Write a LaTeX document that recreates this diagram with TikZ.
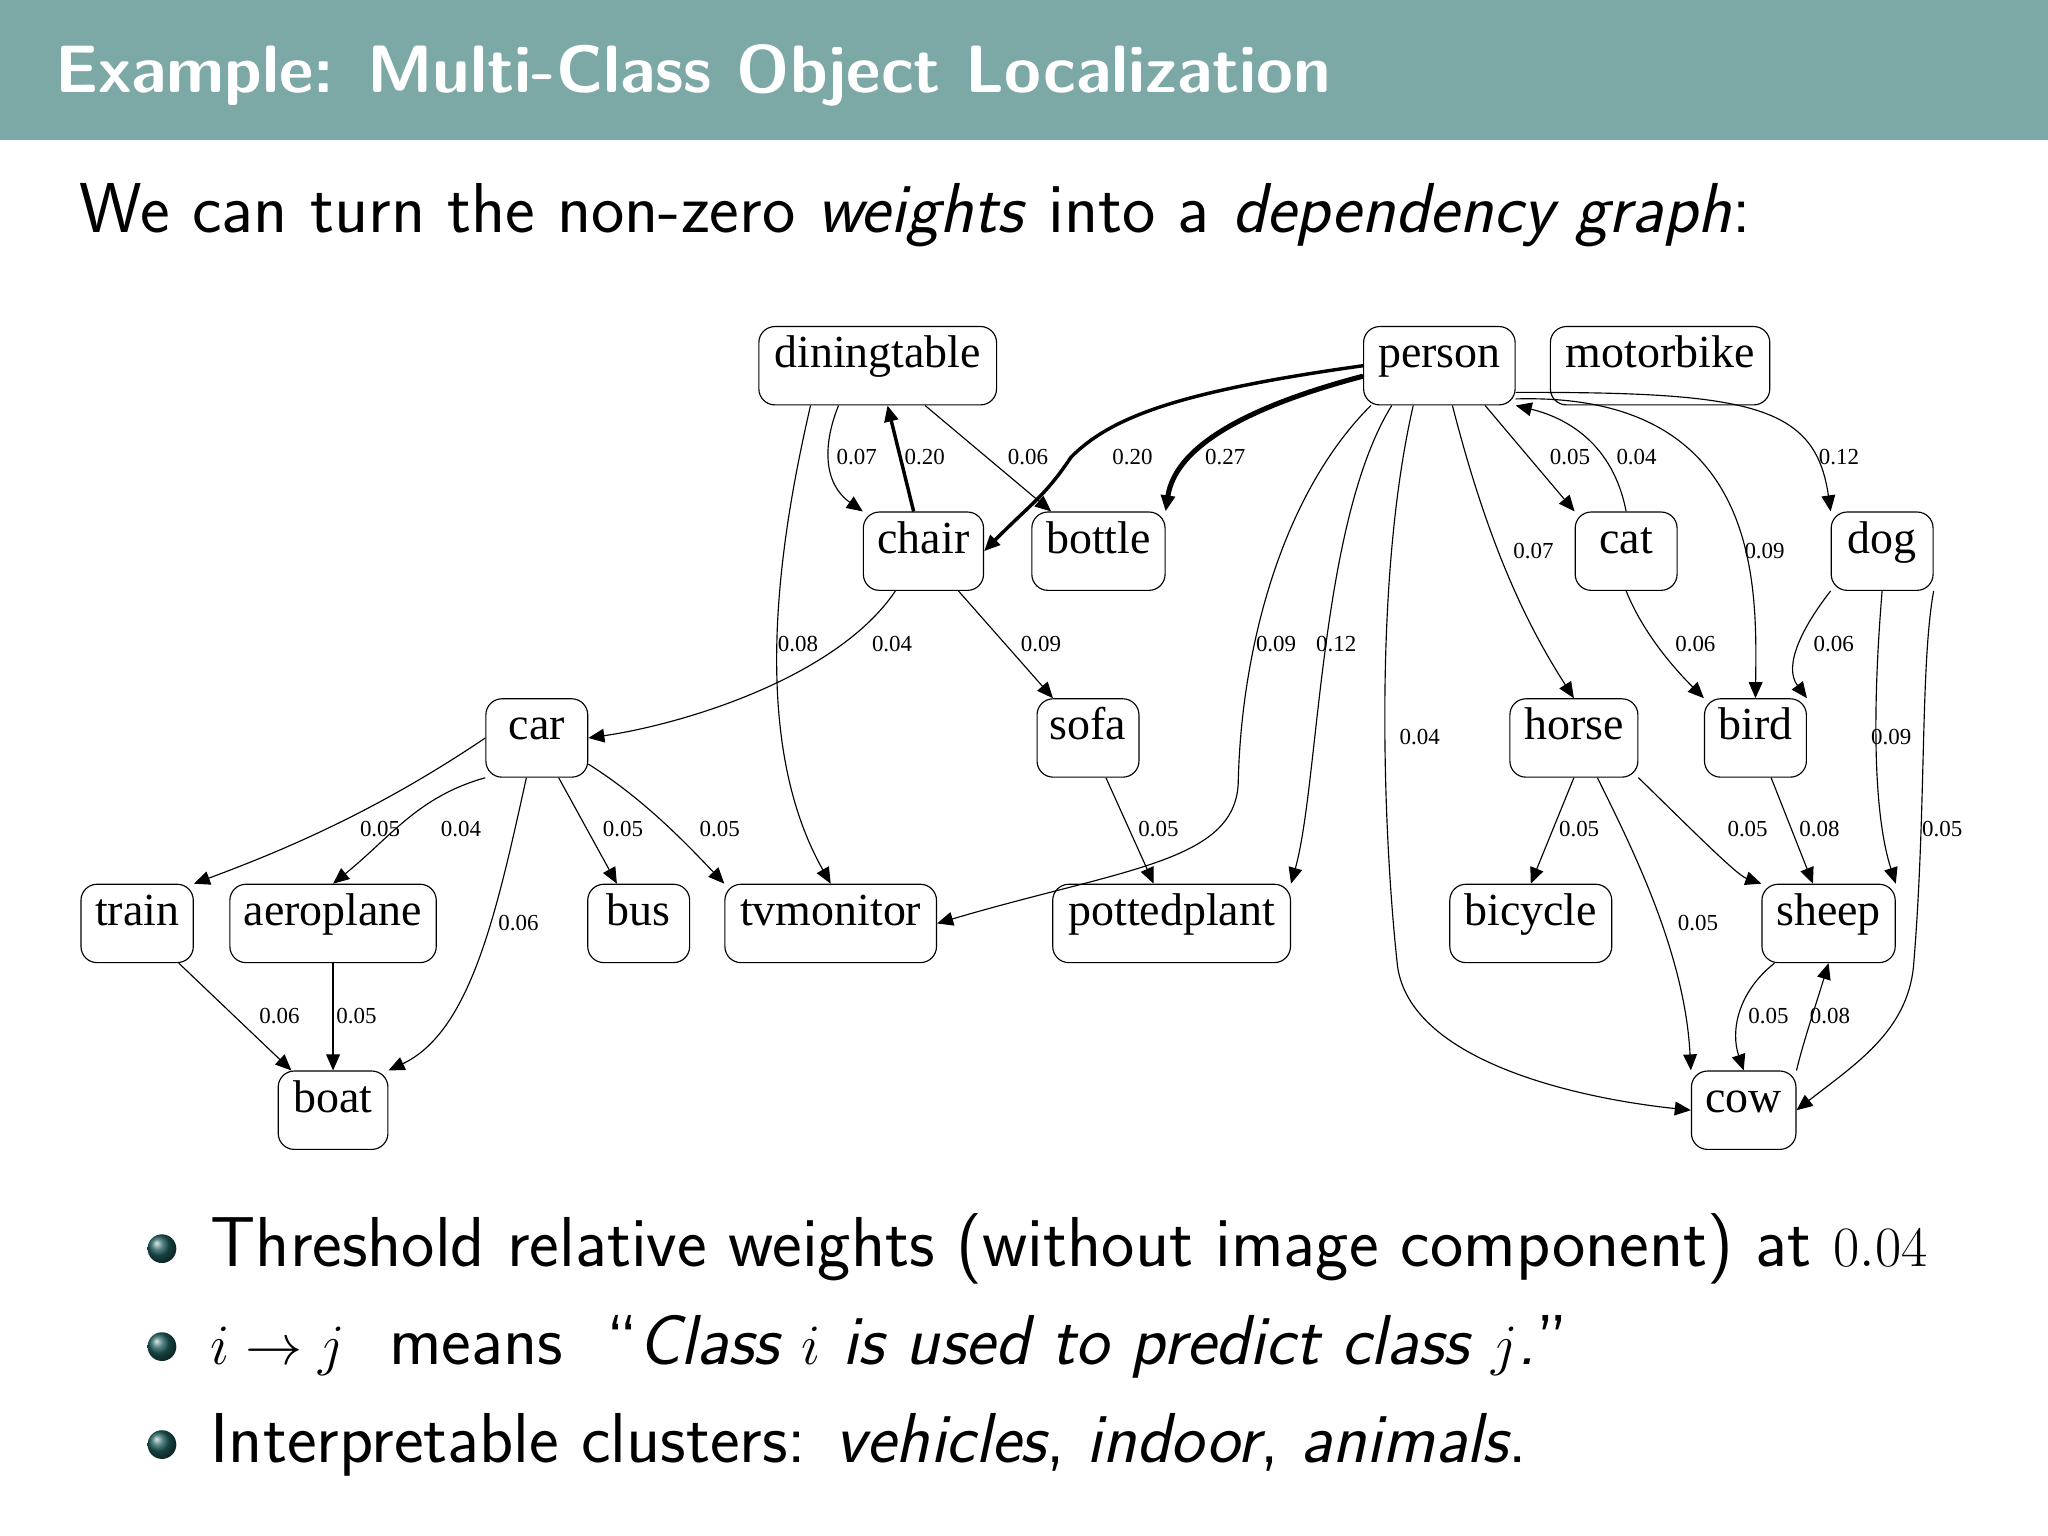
\documentclass[tikz,border=0pt]{standalone}
\usepackage{fontspec}
\newfontfamily\gfont{Liberation Serif}
\usetikzlibrary{arrows.meta}
\definecolor{bar}{HTML}{7CA8A6}
\definecolor{ball}{HTML}{1F5E5C}
\begin{document}
\begin{tikzpicture}[x=0.02cm,y=-0.02cm,
 n/.style={draw,rounded corners=7pt,inner sep=0pt,text height=1.5ex,text depth=1.1ex,font=\gfont\fontsize{20}{22}\selectfont,line width=0.5pt},
 e/.style={-{Triangle[length=7pt,width=6pt]},line width=0.5pt},
 lab/.style={font=\gfont\fontsize{10}{12}\selectfont,inner sep=1pt},
 txt/.style={anchor=west,font=\sffamily\fontsize{30.8}{34}\selectfont}]
\useasboundingbox (0,0) rectangle (1568,1176);
\fill[bar] (0,0) rectangle (1568,107);
\node[anchor=west,text=white,font=\sffamily\bfseries\fontsize{29.2}{34}\selectfont] (title) at (36,58) {Example: Multi-Class Object Localization};
\node[txt] (intro) at (55,165) {We can turn the non-zero \textit{weights} into a \textit{dependency graph}:};
% nodes
\foreach \nm/\x/\y/\w in {diningtable/672/280/182,person/1102/280/116,motorbike/1271/280/168,chair/707/422/92,bottle/841/422/102,cat/1245/422/78,dog/1441/422/78,car/411/565/78,sofa/833/565/78,horse/1205/565/98,bird/1344/565/78,train/105/707/86,aeroplane/255/707/158,bus/489/707/78,tvmonitor/636/707/162,pottedplant/897/707/182,bicycle/1172/707/124,sheep/1400/707/102,boat/255/850/84,cow/1335/850/80}
  \node[n,minimum width=\w*0.02cm,minimum height=1.2cm] (\nm) at (\x,\y) {\nm};
% edges
\draw[e] (diningtable.south) ++(-30,0) .. controls (630,340) and (630,370) .. (chair.north west);
\draw[e,line width=1.5pt] (chair) -- (diningtable);
\draw[e] (diningtable) -- (bottle);
\draw[e] (diningtable.south west) ++(40,0) .. controls (600,400) and (570,560) .. (tvmonitor.north);
\draw[e,line width=1.5pt] (person.west) .. controls (900,300) and (850,320) .. (820,350) .. controls (800,380) and (790,385) .. (chair.east);
\draw[e,line width=2.2pt] (person.west) ++(0,8) .. controls (960,310) and (900,340) .. (bottle.north east);
\draw[e] (person.south west) ++(6,0) .. controls (980,380) and (950,500) .. (948,600) .. controls (945,660) and (860,665) .. (tvmonitor.east);
\draw[e] (person.south west) ++(22,0) .. controls (1010,400) and (1010,600) .. (pottedplant.north east);
\draw[e] (person.south) ++(-20,0) .. controls (1050,450) and (1060,650) .. (1070,740) .. controls (1080,810) and (1200,840) .. (cow.west);
\draw[e] (person.south) ++(10,0) .. controls (1140,420) and (1170,480) .. (horse.north);
\draw[e] (person.south) ++(35,0) -- (cat.north west);
\draw[e] (cat.north) .. controls (1235,340) and (1200,320) .. (person.south east);
\draw[e] (person.south east) ++(0,-5) .. controls (1350,300) and (1345,450) .. (bird.north);
\draw[e] (person.south east) ++(0,-10) .. controls (1340,300) and (1390,310) .. (dog.north west);
\draw[e] (chair.south west) ++(25,0) .. controls (640,520) and (520,555) .. (car.east);
\draw[e] (chair) -- (sofa);
\draw[e] (cat.south) .. controls (1260,490) and (1290,520) .. (bird.north west);
\draw[e] (dog.south west) .. controls (1380,480) and (1365,510) .. (bird.north east);
\draw[e] (dog.south) .. controls (1437,500) and (1430,610) .. (sheep.north east);
\draw[e] (dog.south east) .. controls (1470,510) and (1475,620) .. (1465,740) .. controls (1460,790) and (1420,815) .. (cow.east);
\draw[e] (car.west) .. controls (290,620) and (220,650) .. (train.north east);
\draw[e] (car.south west) .. controls (320,610) and (300,640) .. (aeroplane.north);
\draw[e] (car) -- (bus);
\draw[e] (car.east) ++(0,20) .. controls (490,610) and (520,640) .. (tvmonitor.north west);
\draw[e] (car.south) ++(-8,0) .. controls (380,700) and (360,790) .. (boat.north east);
\draw[e] (sofa) -- (pottedplant);
\draw[e] (horse.south) -- (bicycle.north);
\draw[e] (horse.south east) .. controls (1300,640) and (1330,670) .. (sheep.north west);
\draw[e] (horse.south) ++(18,0) .. controls (1250,650) and (1290,730) .. (cow.north west);
\draw[e] (bird) -- (sheep);
\draw[e] (train) -- (boat);
\draw[e] (aeroplane) -- (boat);
\draw[e] (sheep.south west) ++(10,0) .. controls (1330,760) and (1325,790) .. (cow.north);
\draw[e] (cow.north east) .. controls (1380,800) and (1390,770) .. (sheep.south);
% labels
\foreach \i/\x/\y/\t in {1/656/350/0.07,2/708/350/0.20,3/787/350/0.06,4/867/350/0.20,5/938/350/0.27,6/1202/350/0.05,7/1253/350/0.04,8/1408/350/0.12,9/1174/422/0.07,10/1351/422/0.09,11/611/493/0.08,12/683/493/0.04,13/797/493/0.09,14/977/493/0.09,15/1023/493/0.12,16/1298/493/0.06,17/1404/493/0.06,18/1087/564/0.04,19/1448/564/0.09,20/291/635/0.05,21/353/635/0.04,22/477/635/0.05,23/551/635/0.05,24/887/635/0.05,25/1209/635/0.05,26/1338/635/0.05,27/1393/635/0.08,28/1487/635/0.05,29/397/707/0.06,30/1300/707/0.05,31/214/778/0.06,32/273/778/0.05,33/1354/778/0.05,34/1401/778/0.08}
  \node[lab] (l\i) at (\x,\y) {\t};
% bullets
\foreach \i/\y in {1/956,2/1031,3/1106}
  \shade[ball color=ball] (124,\y) circle (11);
\node[txt] (b1) at (155,956) {Threshold relative weights (without image component) at $0.04$};
\node[txt] (b2) at (155,1031) {$i\rightarrow j$\ \ means \ ``\textit{Class $i$ is used to predict class $j$.}''};
\node[txt] (b3) at (155,1106) {Interpretable clusters: \textit{vehicles}, \textit{indoor}, \textit{animals}.};
\end{tikzpicture}
\end{document}
